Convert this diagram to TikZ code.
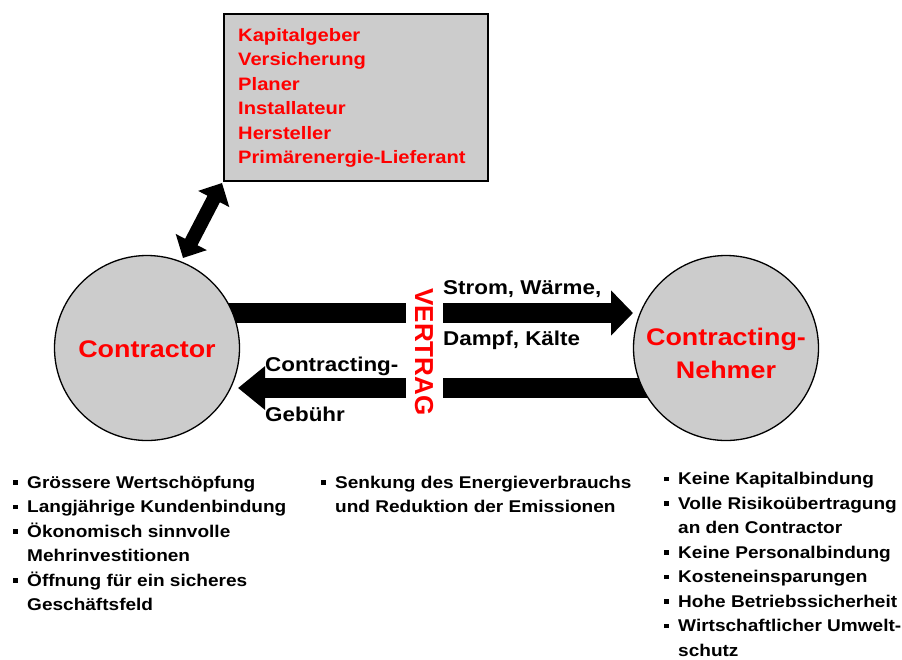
\documentclass[tikz,border=0pt]{standalone}
\usepackage{fontspec}
\setmainfont{Liberation Sans}[FakeStretch=1.12]
\newfontfamily\plainfont{Liberation Sans}
\usetikzlibrary{arrows.meta,backgrounds}
\definecolor{fillgray}{HTML}{CCCCCC}
\definecolor{txtred}{HTML}{FF0000}
\newcommand\bul{\makebox[14pt][l]{\raisebox{3.5pt}{\rule{4.5pt}{4.5pt}}}}
\newcommand\ind{\hspace*{14pt}}
\tikzset{
  party/.style={circle, draw=black, line width=1.3pt, fill=fillgray, minimum size=185pt, inner sep=0pt},
  partytext/.style={inner sep=0pt, text=txtred, font=\fontsize{24}{33}\selectfont\bfseries, align=center},
  listbox/.style={anchor=base west, inner sep=0pt, align=left, font=\fontsize{17}{24.5}\selectfont\bfseries},
  flowlabel/.style={anchor=base west, inner sep=0pt, font=\fontsize{20}{24}\selectfont\bfseries},
  shaft/.style={line width=20pt, draw=black},
  bigtip/.style={shaft, -{Triangle[length=22pt, width=44pt]}},
  dbl/.style={line width=14pt, draw=black, {Triangle[length=18pt, width=34pt]}-{Triangle[length=18pt, width=34pt]}}
}
\begin{document}
\begin{tikzpicture}[x=1pt, y=-1pt]
\useasboundingbox (0,0) rectangle (902,659);

% partner box
\node (box) [draw=black, line width=2pt, fill=fillgray, minimum width=264pt, minimum height=167pt,
  anchor=north west, inner sep=0pt] at (223,13) {};
% anchor = baseline of the last line
\node (boxtxt) [anchor=base west, inner sep=0pt, align=left, text=txtred,
  font=\fontsize{18}{24.5}\selectfont\bfseries] at (238,163.5)
  {Kapitalgeber\\Versicherung\\Planer\\Installateur\\Hersteller\\Primärenergie-Lieferant};

% parties
\node (ctr) [party] at (147,348) {};
\node (ctrText) [partytext] at (147,349) {Contractor};
\node (cn) [party] at (726,348) {};
\node (cnText) [partytext] at (726,353) {Contracting-\\Nehmer};

% gap coordinates
\coordinate (g1) at (406,313);
\coordinate (g2) at (443,313);
\coordinate (g3) at (406,388);
\coordinate (g4) at (443,388);
\coordinate (tipR) at (633,313);
\coordinate (tipL) at (238,388);
\coordinate (da1) at (183,258);
\coordinate (da2) at (222,183);

\begin{scope}[on background layer]
  \draw[shaft] (ctr.center |- g1) -- (g1);
  \draw[bigtip] (g2) -- (tipR);
  \draw[shaft] (cn.center |- g4) -- (g4);
  \draw[line width=20pt, -{Triangle[length=27pt, width=42pt]}] (g3) -- (tipL);
\end{scope}
\draw[dbl] (da1) -- (da2);

% VERTRAG
\node (vt) [rotate=-90, inner sep=0pt, text=txtred, font=\plainfont\fontsize{26}{26}\selectfont\bfseries] at (424,352) {VERTRAG};

% flow labels
\node (l1) [flowlabel] at (443,294) {Strom, Wärme,};
\node (l2) [flowlabel] at (443,345) {Dampf, Kälte};
\node (l3) [flowlabel] at (265,371) {Contracting-};
\node (l4) [flowlabel] at (265,421) {Gebühr};

% lists (anchored at the baseline of their last line)
\node (listL) [listbox] at (13,610.5)
  {\bul Grössere Wertschöpfung\\
   \bul Langjährige Kundenbindung\\
   \bul Ökonomisch sinnvolle\\
   \ind Mehrinvestitionen\\
   \bul Öffnung für ein sicheres\\
   \ind Geschäftsfeld};
\node (listM) [listbox] at (321,512.5)
  {\bul Senkung des Energieverbrauchs\\
   \ind und Reduktion der Emissionen};
\node (listR) [listbox] at (664,656)
  {\bul Keine Kapitalbindung\\
   \bul Volle Risikoübertragung\\
   \ind an den Contractor\\
   \bul Keine Personalbindung\\
   \bul Kosteneinsparungen\\
   \bul Hohe Betriebssicherheit\\
   \bul Wirtschaftlicher Umwelt-\\
   \ind schutz};
\end{tikzpicture}
\end{document}
